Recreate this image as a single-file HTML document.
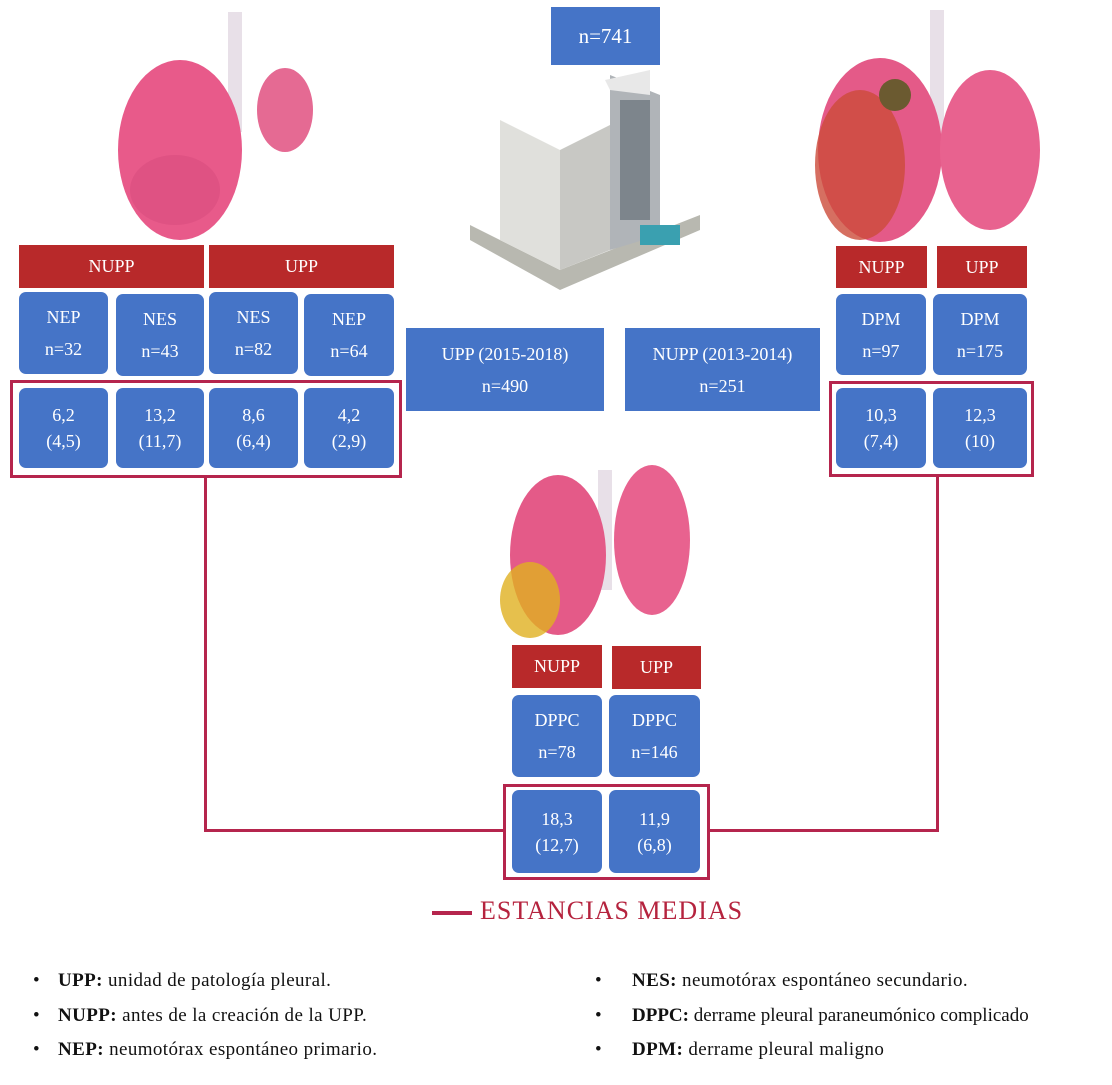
<!DOCTYPE html>
<html><head><meta charset="utf-8"><style>
body{margin:0;width:1112px;height:1085px;background:#fff;position:relative;overflow:hidden;font-family:"Liberation Serif",serif}
.a{position:absolute;box-sizing:border-box}
.r{background:#b8292a;color:#fff;font-size:18px;display:flex;align-items:center;justify-content:center}
.b{background:#4574c7;color:#fff;font-size:18px;border-radius:7px;display:flex;align-items:center;justify-content:center;text-align:center;line-height:26px}
.f{border:3px solid #b5254d}
.l{background:#b5254d}
.t{font-size:19px;color:#111;white-space:nowrap;letter-spacing:0.4px}
.t b{font-weight:bold}
</style></head><body>
<svg class="a" style="left:0;top:0" width="1112" height="660">
 <g>
  <rect x="228" y="12" width="14" height="120" fill="#e8e0e8"/>
  <ellipse cx="180" cy="150" rx="62" ry="90" fill="#e85a8a"/>
  <ellipse cx="285" cy="110" rx="28" ry="42" fill="#e56a93"/>
  <ellipse cx="175" cy="190" rx="45" ry="35" fill="#d94d7e" opacity=".6"/>
 </g>
 <g>
  <rect x="930" y="10" width="14" height="130" fill="#e8e0e8"/>
  <ellipse cx="880" cy="150" rx="62" ry="92" fill="#e45a88"/>
  <ellipse cx="860" cy="165" rx="45" ry="75" fill="#cc4b3a" opacity=".8"/>
  <ellipse cx="990" cy="150" rx="50" ry="80" fill="#e8628f"/>
  <ellipse cx="895" cy="95" rx="16" ry="16" fill="#6b5a30"/>
 </g>
 <g>
  <rect x="598" y="470" width="14" height="120" fill="#e8e0e8"/>
  <ellipse cx="558" cy="555" rx="48" ry="80" fill="#e45a88"/>
  <ellipse cx="530" cy="600" rx="30" ry="38" fill="#e0b020" opacity=".8"/>
  <ellipse cx="652" cy="540" rx="38" ry="75" fill="#e8628f"/>
 </g>
 <g>
  <polygon points="470,240 560,290 700,230 700,215 560,270 470,225" fill="#b8b8b0"/>
  <polygon points="500,120 560,150 560,270 500,240" fill="#e0e0dc"/>
  <polygon points="560,150 610,125 610,250 560,270" fill="#c8c8c4"/>
  <polygon points="610,75 660,95 660,235 610,250" fill="#b0b4b8"/>
  <polygon points="605,80 650,70 650,95 610,90" fill="#e8e8e8"/>
  <rect x="620" y="100" width="30" height="120" fill="#4a5560" opacity=".5"/>
  <rect x="640" y="225" width="40" height="20" fill="#3aa0b0"/>
 </g>
</svg>
<div class="a b" style="left:551px;top:7px;width:109px;height:58px;border-radius:0;font-size:21px">n=741</div>

<div class="a r" style="left:19px;top:245px;width:185px;height:43px">NUPP</div>
<div class="a r" style="left:209px;top:245px;width:185px;height:43px">UPP</div>
<div class="a b" style="left:19px;top:292px;width:89px;height:82px;line-height:32px">NEP<br>n=32</div>
<div class="a b" style="left:116px;top:294px;width:88px;height:82px;line-height:32px">NES<br>n=43</div>
<div class="a b" style="left:209px;top:292px;width:89px;height:82px;line-height:32px">NES<br>n=82</div>
<div class="a b" style="left:304px;top:294px;width:90px;height:82px;line-height:32px">NEP<br>n=64</div>
<div class="a f" style="left:10px;top:380px;width:392px;height:98px"></div>
<div class="a b" style="left:19px;top:388px;width:89px;height:80px">6,2<br>(4,5)</div>
<div class="a b" style="left:116px;top:388px;width:88px;height:80px">13,2<br>(11,7)</div>
<div class="a b" style="left:209px;top:388px;width:89px;height:80px">8,6<br>(6,4)</div>
<div class="a b" style="left:304px;top:388px;width:90px;height:80px">4,2<br>(2,9)</div>

<div class="a b" style="left:406px;top:328px;width:198px;height:83px;border-radius:0;line-height:32px">UPP (2015-2018)<br>n=490</div>
<div class="a b" style="left:625px;top:328px;width:195px;height:83px;border-radius:0;line-height:32px">NUPP (2013-2014)<br>n=251</div>

<div class="a r" style="left:836px;top:246px;width:91px;height:42px">NUPP</div>
<div class="a r" style="left:937px;top:246px;width:90px;height:42px">UPP</div>
<div class="a b" style="left:836px;top:294px;width:90px;height:81px;line-height:32px">DPM<br>n=97</div>
<div class="a b" style="left:933px;top:294px;width:94px;height:81px;line-height:32px">DPM<br>n=175</div>
<div class="a f" style="left:829px;top:381px;width:205px;height:96px"></div>
<div class="a b" style="left:836px;top:388px;width:90px;height:80px">10,3<br>(7,4)</div>
<div class="a b" style="left:933px;top:388px;width:94px;height:80px">12,3<br>(10)</div>

<div class="a r" style="left:512px;top:645px;width:90px;height:43px">NUPP</div>
<div class="a r" style="left:612px;top:646px;width:89px;height:43px">UPP</div>
<div class="a b" style="left:512px;top:695px;width:90px;height:82px;line-height:32px">DPPC<br>n=78</div>
<div class="a b" style="left:609px;top:695px;width:91px;height:82px;line-height:32px">DPPC<br>n=146</div>
<div class="a f" style="left:503px;top:784px;width:207px;height:96px"></div>
<div class="a b" style="left:512px;top:790px;width:90px;height:83px">18,3<br>(12,7)</div>
<div class="a b" style="left:609px;top:790px;width:91px;height:83px">11,9<br>(6,8)</div>

<div class="a l" style="left:204px;top:477px;width:3px;height:355px"></div>
<div class="a l" style="left:204px;top:829px;width:300px;height:3px"></div>
<div class="a l" style="left:936px;top:477px;width:3px;height:355px"></div>
<div class="a l" style="left:709px;top:829px;width:230px;height:3px"></div>

<div class="a l" style="left:432px;top:911px;width:40px;height:4px"></div>
<div class="a" style="left:480px;top:896px;font-size:26px;color:#b5233e;letter-spacing:1px">ESTANCIAS MEDIAS</div>

<div class="a t" style="left:33px;top:970px">•</div>
<div class="a t" style="left:33px;top:1005px">•</div>
<div class="a t" style="left:33px;top:1039px">•</div>
<div class="a t" style="left:58px;top:970px"><b>UPP:</b> unidad de patología pleural.</div>
<div class="a t" style="left:58px;top:1005px"><b>NUPP:</b> antes de la creación de la UPP.</div>
<div class="a t" style="left:58px;top:1039px"><b>NEP:</b> neumotórax espontáneo primario.</div>
<div class="a t" style="left:595px;top:970px">•</div>
<div class="a t" style="left:595px;top:1005px">•</div>
<div class="a t" style="left:595px;top:1039px">•</div>
<div class="a t" style="left:632px;top:970px"><b>NES:</b> neumotórax espontáneo secundario.</div>
<div class="a t" style="left:632px;top:1005px;letter-spacing:0"><b>DPPC:</b> derrame pleural paraneumónico complicado</div>
<div class="a t" style="left:632px;top:1039px"><b>DPM:</b> derrame pleural maligno</div>
</body></html>
